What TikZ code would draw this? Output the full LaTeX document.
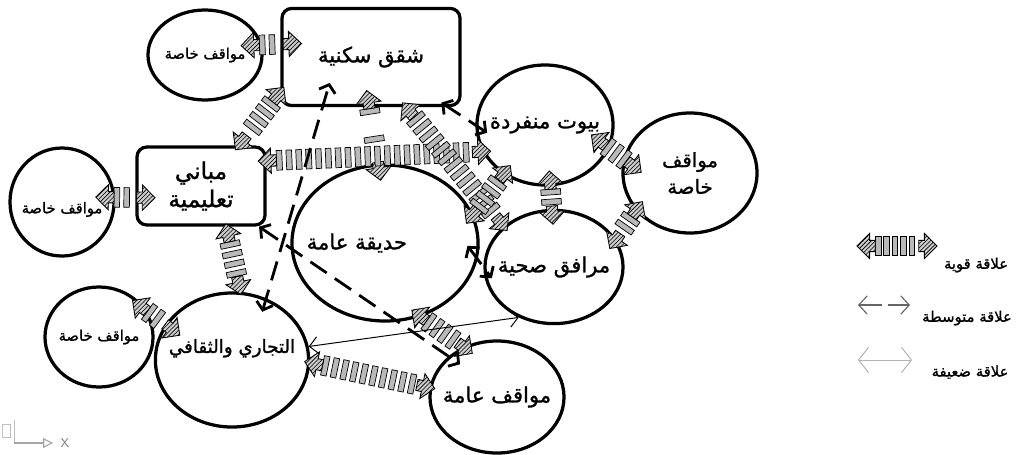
\documentclass[tikz,border=0pt]{standalone}
\usepackage{fontspec}
\newfontfamily\arabicfont[Script=Arabic,FakeBold=1.2]{DejaVu Sans}
\TeXXeTstate=1
\usetikzlibrary{shapes.geometric,arrows.meta,decorations.markings,patterns,calc}
\newcommand\ar[1]{\makebox[0pt]{\arabicfont\beginR #1\endR}}
\newcommand\strhead[1]{\draw[line width=0.6pt,xscale=#1,preaction={fill=gray!40},pattern=north east lines]
  (0pt,0pt) -- (-9pt,9pt) -- (-9pt,4pt) -- (-13pt,4pt) -- (-13pt,-4pt) -- (-9pt,-4pt) -- (-9pt,-9pt) -- cycle;}
\newcommand\strbar{\draw[line width=0.5pt,fill=gray!55] (-2pt,-7pt) rectangle (2pt,7pt);}
\begin{document}
\begin{tikzpicture}[x=0.025cm,y=-0.025cm,
bubble/.style={ellipse,draw,line width=2.3pt,inner sep=0pt,align=center,font=\fontsize{13}{17}\selectfont},
block/.style={rectangle,rounded corners=7pt,draw,line width=2.3pt,align=center,font=\fontsize{13}{17}\selectfont},
small/.style={font=\fontsize{10.5}{13}\selectfont},
big/.style={font=\fontsize{15}{19}\selectfont},
legend/.style={font=\fontsize{10.5}{13}\selectfont},
strongarrow/.style={
  postaction={decorate,decoration={markings,pre=moveto,pre length=15pt,post=moveto,post length=15pt,
    mark=between positions 0 and 1 step #1 with {\strbar}}},
  postaction={decorate,decoration={markings,
    mark=at position 0 with {\strhead{-1}},
    mark=at position 1 with {\strhead{1}}}}},
strongarrow/.default=7pt,
medarrow/.style={line width=2pt,dash pattern=on 14pt off 7pt,
  {Straight Barb[length=5pt,width=12pt]}-{Straight Barb[length=5pt,width=12pt]}},
weakarrow/.style={line width=0.7pt,{Straight Barb[length=6pt,width=12pt]}-{Straight Barb[length=6pt,width=12pt]}}
]
\useasboundingbox (0,0) rectangle (1024,454);
\node[bubble,small,minimum width=2.85cm,minimum height=2.25cm] (pkA) at (205,55) {\ar{مواقف خاصة}};
\node[block,big,minimum width=4.45cm,minimum height=2.43cm] (apt) at (371,57) {\ar{شقق سكنية}};
\node[bubble,small,minimum width=2.6cm,minimum height=2.7cm] (pkB) at (62,202) {\raisebox{-8pt}[0pt][0pt]{\ar{مواقف خاصة}}};
\node[block,minimum width=3.2cm,minimum height=1.95cm,font=\fontsize{16.5}{20}\selectfont] (edu) at (201,186) {\ar{مباني}\\\ar{تعليمية}};
\node[bubble,big,minimum width=4.65cm,minimum height=3.9cm] (garden) at (385,243) {\makebox[0pt]{\ar{حديقة عامة}\hspace*{40pt}}};
\node[bubble,big,minimum width=3.4cm,minimum height=3cm] (houses) at (545,125) {\ar{بيوت منفردة}};
\node[bubble,minimum width=3.35cm,minimum height=3cm,font=\fontsize{14}{19}\selectfont] (pkC) at (690,173) {\ar{مواقف}\\\ar{خاصة}};
\node[bubble,big,minimum width=3.45cm,minimum height=2.83cm] (health) at (554,267) {\ar{مرافق صحية}};
\node[bubble,minimum width=3.83cm,minimum height=3.35cm] (comm) at (232,360) {\raisebox{5pt}[0pt][0pt]{\ar{التجاري والثقافي}}};
\node[bubble,small,minimum width=2.7cm,minimum height=2.5cm] (pkD) at (99,337) {\ar{مواقف خاصة}};
\node[bubble,big,minimum width=3.35cm,minimum height=2.8cm] (pubpk) at (497,397) {\ar{مواقف عامة}};

\path[strongarrow] ($(pkA.10)!-15pt!(apt.172)$) -- ($(apt.172)!-15pt!(pkA.10)$);
\path[strongarrow] ($(apt.201)!-4pt!(edu.47)$) -- ($(edu.47)!-4pt!(apt.201)$);
\path[strongarrow] ($(pkB.5)!-14pt!(edu.190)$) -- ($(edu.190)!-14pt!(pkB.5)$);
\path[strongarrow] ($(edu.302)!-2pt!(comm.83)$) -- ($(comm.83)!-2pt!(edu.302)$);
\path[strongarrow] ($(pkD.28)!-13pt!(comm.152)$) -- ($(comm.152)!-13pt!(pkD.28)$);
\path[strongarrow] ($(comm.358)!-4pt!(pubpk.172)$) -- ($(pubpk.172)!-4pt!(comm.358)$);
\path[strongarrow] ($(garden.296)!-8pt!(pubpk.124)$) -- ($(pubpk.124)!-8pt!(garden.296)$);
\path[strongarrow=20pt] ($(apt.268)!-12pt!(garden.95)$) -- ($(garden.95)!-12pt!(apt.268)$);
\path[strongarrow] ($(edu.21)!-6pt!(houses.203)$) -- ($(houses.203)!-6pt!(edu.21)$);
\path[strongarrow] ($(apt.305)!-4pt!(health.141)$) -- ($(health.141)!-4pt!(apt.305)$);
\path[strongarrow] ($(garden.18)!-8pt!(houses.230)$) -- ($(houses.230)!-8pt!(garden.18)$);
\path[strongarrow] ($(houses.340)!-16pt!(pkC.168)$) -- ($(pkC.168)!-16pt!(houses.340)$);
\path[strongarrow] ($(pkC.215)!-8pt!(health.24)$) -- ($(health.24)!-8pt!(pkC.215)$);
\path[strongarrow] ($(houses.275)!-11pt!(health.92)$) -- ($(health.92)!-11pt!(houses.275)$);

\draw[medarrow,shorten <=-6pt,shorten >=-10pt] (apt.327) -- (houses.180);
\draw[medarrow,shorten <=-10pt,shorten >=-18pt] (comm.61) -- (apt.226);
\draw[medarrow,shorten >=-10pt] (edu.325) -- (pubpk.140);
\draw[medarrow,shorten <=-12pt,shorten >=-10pt] (garden.350) -- (health.180);
\draw[weakarrow] (comm.10) -- (health.235);

\coordinate (lgS1) at (857,246);
\coordinate (lgS2) at (937,246);
\path[strongarrow=6pt] (lgS1) -- (lgS2);
\node[legend] (lgStext) at (976,265) {\ar{علاقة قوية}};
\coordinate (lgM1) at (858,305);
\coordinate (lgM2) at (882,305);
\coordinate (lgM3) at (888,305);
\coordinate (lgM4) at (910,305);
\draw[gray!80!black,line width=0.8pt,-{Straight Barb[length=6pt,width=13pt]}] (lgM2) -- (lgM1);
\draw[gray!80!black,line width=0.8pt,-{Straight Barb[length=6pt,width=13pt]}] (lgM3) -- (lgM4);
\node[legend] (lgMtext) at (967,318) {\ar{علاقة متوسطة}};
\coordinate (lgW1) at (858,360);
\coordinate (lgW2) at (912,360);
\draw[gray!60,line width=0.7pt,{Straight Barb[length=7pt,width=18pt]}-{Straight Barb[length=7pt,width=18pt]}] (lgW1) -- (lgW2);
\node[legend] (lgWtext) at (970,372) {\ar{علاقة ضعيفة}};

\coordinate (ucs) at (14,443);
\coordinate (ucsEnd) at (53,443);
\draw[gray!50] (2,424) rectangle (10,437);
\draw[gray!50] (ucs) -- (14,420);
\draw[gray!70,line width=0.8pt,-{Triangle[open,length=7pt,width=7pt]}] (ucs) -- (ucsEnd);
\node[gray,font=\sffamily\small] (ucsX) at (65,443) {X};
\end{tikzpicture}
\end{document}
